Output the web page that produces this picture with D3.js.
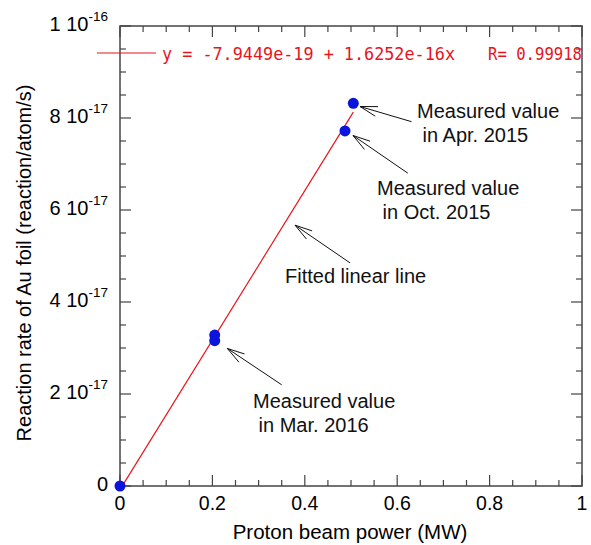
<!DOCTYPE html>
<html>
<head>
<meta charset="utf-8">
<script src="https://cdn.jsdelivr.net/npm/d3@7"></script>
<style>
  body { margin: 0; background: #fff; }
  text { font-family: "Liberation Sans", Arial, sans-serif; }
</style>
</head>
<body>
<div id="chart"></div>
<script>
// measured points: proton beam power (MW) vs reaction rate
const powerMW = [0, 0.205, 0.205, 0.487, 0.505];
const reactionRate = [0, 3.28e-17, 3.16e-17, 7.72e-17, 8.32e-17];

// linear fit shown in the legend
const fitIntercept = -7.9449e-19;
const fitSlope = 1.6252e-16;
const fitRange = [0, 0.505];
const fitLabel = "y = -7.9449e-19 + 1.6252e-16x";
const fitR = "R= 0.99918";

const xTicks = [0, 0.2, 0.4, 0.6, 0.8, 1];
const xTickLabels = ["0", "0.2", "0.4", "0.6", "0.8", "1"];
const yTicks = [0, 2e-17, 4e-17, 6e-17, 8e-17, 1e-16];
const yTickMantissa = ["0", "2 10", "4 10", "6 10", "8 10", "1 10"];
const yTickExponent = ["", "-17", "-17", "-17", "-17", "-16"];

// annotations: arrow tail -> tip in data units, two text lines
const notes = [
  {lines: ["Measured value", " in Apr. 2015"], tail: [0.631, 7.92e-17], tip: [0.5195, 8.25e-17]},
  {lines: ["Measured value", " in Oct. 2015"], tail: [0.623, 6.80e-17], tip: [0.5043, 7.62e-17]},
  {lines: ["Measured value", " in Mar. 2016"], tail: [0.350, 2.20e-17], tip: [0.2323, 2.99e-17]},
  {lines: ["Fitted linear line"], tail: [0.498, 4.85e-17], tip: [0.3788, 5.67e-17]}
];
const notePos = [[417, 118], [377, 195], [253, 408], [285, 283]];

const width = 591;
const height = 545;
const margin = {left: 120, right: 9, top: 26, bottom: 59};

const svg = d3.select("#chart")
  .append("svg")
  .attr("width", width)
  .attr("height", height);

const x = d3.scaleLinear()
  .domain([0, 1])
  .range([margin.left, width - margin.right]);
const y = d3.scaleLinear()
  .domain([0, 1e-16])
  .range([height - margin.bottom, margin.top]);

const axisColor = "#444";

// frame
svg.append("rect")
  .attr("x", x(0)).attr("y", y(1e-16))
  .attr("width", x(1) - x(0)).attr("height", y(0) - y(1e-16))
  .attr("fill", "none")
  .attr("stroke", axisColor)
  .attr("stroke-width", 1.5);

// ticks on all four sides, pointing inwards
const xMinor = d3.range(0, 1.0001, 0.05);
const yMinor = d3.range(0, 1.0001e-16, 0.5e-17);
const isMajorX = v => Math.abs(v * 5 - Math.round(v * 5)) < 1e-6;
const isMajorY = v => Math.abs(v / 2e-17 - Math.round(v / 2e-17)) < 1e-6;

const ticks = svg.append("g").attr("stroke", axisColor).attr("stroke-width", 1.2);
xMinor.forEach(v => {
  const len = isMajorX(v) ? 11 : 6;
  ticks.append("line").attr("x1", x(v)).attr("x2", x(v))
    .attr("y1", y(0)).attr("y2", y(0) - len);
  ticks.append("line").attr("x1", x(v)).attr("x2", x(v))
    .attr("y1", y(1e-16)).attr("y2", y(1e-16) + len);
});
yMinor.forEach(v => {
  const len = isMajorY(v) ? 11 : 6;
  ticks.append("line").attr("y1", y(v)).attr("y2", y(v))
    .attr("x1", x(0)).attr("x2", x(0) + len);
  ticks.append("line").attr("y1", y(v)).attr("y2", y(v))
    .attr("x1", x(1)).attr("x2", x(1) - len);
});

// tick labels
svg.append("g").selectAll("text")
  .data(xTicks)
  .join("text")
  .attr("x", d => x(d))
  .attr("y", y(0) + 24)
  .attr("text-anchor", "middle")
  .attr("font-size", 19.5)
  .text((d, i) => xTickLabels[i]);

const yl = svg.append("g").selectAll("text")
  .data(yTicks)
  .join("text")
  .attr("x", x(0) - 12)
  .attr("y", d => y(d) + 5)
  .attr("text-anchor", "end")
  .attr("font-size", 20);
yl.append("tspan").text((d, i) => yTickMantissa[i]);
yl.append("tspan")
  .attr("font-size", 13.5)
  .attr("dy", -10)
  .text((d, i) => yTickExponent[i]);

// axis titles
svg.append("text")
  .attr("x", (x(0) + x(1)) / 2 - 1)
  .attr("y", 539)
  .attr("text-anchor", "middle")
  .attr("font-size", 20.5)
  .text("Proton beam power (MW)");

svg.append("text")
  .attr("transform", `translate(31, ${(y(0) + y(1e-16)) / 2 + 7}) rotate(-90)`)
  .attr("text-anchor", "middle")
  .attr("font-size", 20)
  .text("Reaction rate of Au foil (reaction/atom/s)");

// fitted line
svg.append("line")
  .attr("x1", x(fitRange[0]))
  .attr("y1", y(fitIntercept + fitSlope * fitRange[0]))
  .attr("x2", x(fitRange[1]))
  .attr("y2", y(fitIntercept + fitSlope * fitRange[1]))
  .attr("stroke", "#e8141c")
  .attr("stroke-width", 1.2);

// points
svg.append("g").selectAll("circle")
  .data(powerMW)
  .join("circle")
  .attr("cx", d => x(d))
  .attr("cy", (d, i) => y(reactionRate[i]))
  .attr("r", 5.5)
  .attr("fill", "#0a14dc");

// legend
svg.append("line")
  .attr("x1", 97).attr("x2", 156)
  .attr("y1", 53).attr("y2", 53)
  .attr("stroke", "#e8141c")
  .attr("stroke-width", 1.2);
svg.append("text")
  .attr("x", 162).attr("y", 60)
  .style("font-family", "'DejaVu Sans Mono', monospace")
  .attr("font-size", 18)
  .attr("fill", "#e8141c")
  .attr("textLength", 293)
  .attr("lengthAdjust", "spacingAndGlyphs")
  .text(fitLabel);
svg.append("text")
  .attr("x", 488).attr("y", 60)
  .style("font-family", "'DejaVu Sans Mono', monospace")
  .attr("font-size", 18)
  .attr("fill", "#e8141c")
  .attr("textLength", 94)
  .attr("lengthAdjust", "spacingAndGlyphs")
  .text(fitR);

// annotations with open arrowheads
const ann = svg.append("g");
notes.forEach((n, i) => {
  const tx = x(n.tail[0]), ty = y(n.tail[1]);
  const px = x(n.tip[0]), py = y(n.tip[1]);
  ann.append("line")
    .attr("x1", tx).attr("y1", ty).attr("x2", px).attr("y2", py)
    .attr("stroke", "#111").attr("stroke-width", 1);
  const ang = Math.atan2(ty - py, tx - px);
  const head = 18, spread = 16 * Math.PI / 180;
  [-spread, spread].forEach(s => {
    ann.append("line")
      .attr("x1", px).attr("y1", py)
      .attr("x2", px + head * Math.cos(ang + s))
      .attr("y2", py + head * Math.sin(ang + s))
      .attr("stroke", "#111").attr("stroke-width", 1);
  });
  const t = ann.append("text")
    .attr("x", notePos[i][0])
    .attr("y", notePos[i][1])
    .attr("font-size", 20)
    .attr("fill", "#111")
    .style("white-space", "pre");
  n.lines.forEach((l, j) => {
    t.append("tspan")
      .attr("x", notePos[i][0])
      .attr("dy", j === 0 ? 0 : 23.5)
      .text(l);
  });
});
</script>
</body>
</html>
